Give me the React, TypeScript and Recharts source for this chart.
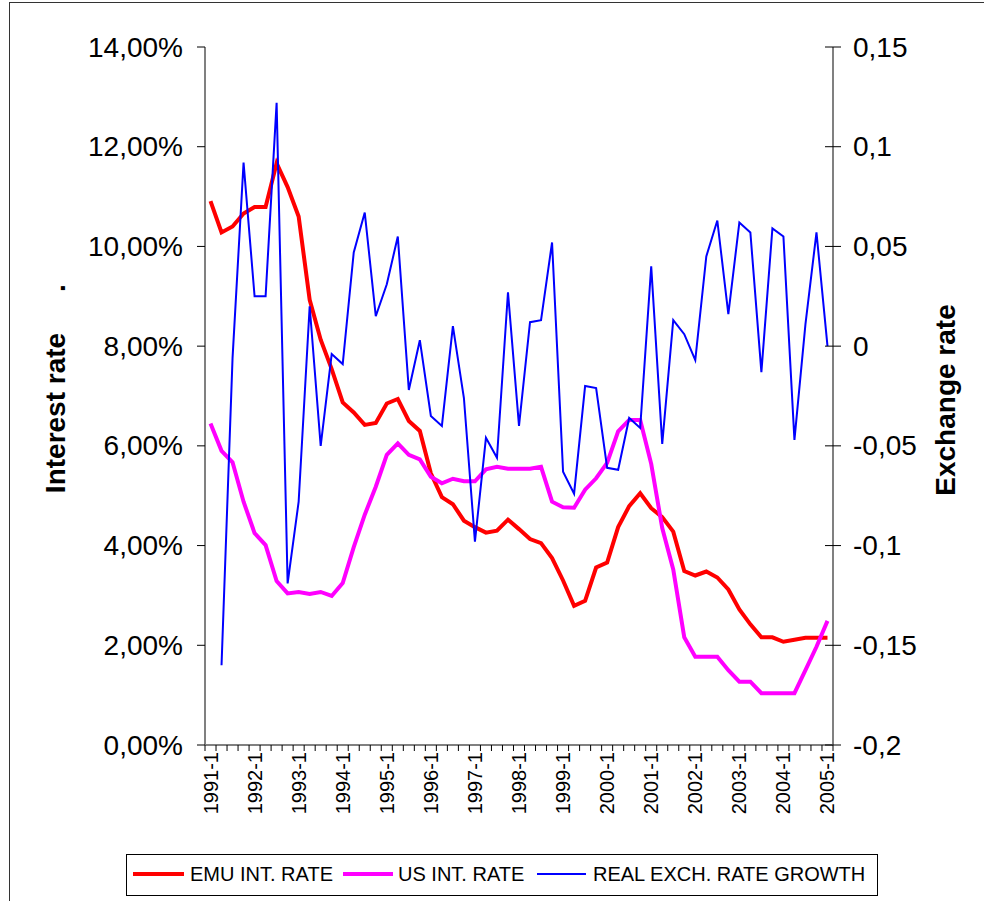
import React from 'react';
import { LineChart, Line, XAxis, YAxis, Legend } from 'recharts';

const YEARS = [1991, 1992, 1993, 1994, 1995, 1996, 1997, 1998, 1999, 2000, 2001, 2002, 2003, 2004, 2005];
const QUARTERS = [1, 2, 3, 4];
const CATEGORIES: string[] = [];
YEARS.forEach((y) => QUARTERS.forEach((q) => { if (y < 2005 || q === 1) CATEGORIES.push(`${y}-${q}`); }));

const EMU_RATE = [
  10.91, 10.28, 10.40, 10.66, 10.79, 10.79, 11.67, 11.19, 10.60, 8.93,
  8.13, 7.54, 6.87, 6.67, 6.42, 6.46, 6.85, 6.94, 6.50, 6.30,
  5.45, 4.97, 4.83, 4.50, 4.37, 4.26, 4.30, 4.52, 4.33, 4.13,
  4.05, 3.75, 3.30, 2.79, 2.89, 3.56, 3.66, 4.37, 4.79, 5.05,
  4.75, 4.57, 4.28, 3.49, 3.40, 3.48, 3.36, 3.12, 2.72, 2.42,
  2.16, 2.16, 2.07, 2.11, 2.15, 2.15, 2.15,
];
const US_RATE = [
  6.45, 5.90, 5.67, 4.88, 4.25, 4.01, 3.29, 3.04, 3.07, 3.03,
  3.07, 2.99, 3.25, 3.97, 4.62, 5.18, 5.82, 6.05, 5.82, 5.73,
  5.38, 5.25, 5.34, 5.29, 5.29, 5.53, 5.58, 5.54, 5.54, 5.54,
  5.58, 4.88, 4.77, 4.76, 5.12, 5.35, 5.66, 6.29, 6.52, 6.52,
  5.64, 4.35, 3.52, 2.16, 1.77, 1.77, 1.77, 1.50, 1.27, 1.27,
  1.04, 1.04, 1.04, 1.04, 1.50, 1.97, 2.49,
];
const EXCH_GROWTH: (number | null)[] = [
  null, -0.160, -0.006, 0.092, 0.025, 0.025, 0.122, -0.119, -0.078, 0.020,
  -0.050, -0.004, -0.009, 0.047, 0.067, 0.015, 0.031, 0.055, -0.022, 0.003,
  -0.035, -0.040, 0.010, -0.026, -0.098, -0.046, -0.056, 0.027, -0.040, 0.012,
  0.013, 0.052, -0.063, -0.074, -0.020, -0.021, -0.061, -0.062, -0.036, -0.041,
  0.040, -0.049, 0.013, 0.006, -0.007, 0.045, 0.063, 0.016, 0.062, 0.057,
  -0.013, 0.059, 0.055, -0.047, 0.011, 0.057, 0.000,
];

const LEFT_TICKS = [0, 2, 4, 6, 8, 10, 12, 14];
const RIGHT_TICKS = [-0.2, -0.15, -0.1, -0.05, 0, 0.05, 0.1, 0.15];
const X_TICKS: number[] = [];
for (let k = 0; k <= CATEGORIES.length * 2; k++) X_TICKS.push(k / 2 - 0.5);

const data = CATEGORIES.map((c, i) => ({
  idx: i,
  label: c,
  emu: EMU_RATE[i],
  us: US_RATE[i],
  exch: EXCH_GROWTH[i],
}));

const FONT = '"Liberation Sans", Arial, sans-serif';

const fmtPct = (v: number) => `${v.toFixed(2).replace('.', ',')}%`;
const fmtRight = (v: number) => {
  const r = Number(v.toFixed(2));
  return r === 0 ? '0' : String(r).replace('.', ',');
};

const XTick = (props: any) => {
  const { x, y, payload } = props;
  const v = payload.value as number;
  if (Math.abs(v - Math.round(v)) > 0.25) {
    return <line x1={x} y1={y} x2={x} y2={y + 6} stroke="#000" strokeWidth={1} />;
  }
  const i = Math.round(v);
  if (i % 4 !== 0) return <g />;
  const ty = y + 7;
  return (
    <text
      x={x}
      y={ty}
      transform={`rotate(-90 ${x} ${ty})`}
      textAnchor="end"
      dominantBaseline="central"
      fontSize={20}
      fontFamily={FONT}
      fill="#000"
    >
      {CATEGORIES[i]}
    </text>
  );
};

const LeftTick = (props: any) => {
  const { x, y, payload } = props;
  return (
    <g>
      <line x1={x - 8} y1={y} x2={x} y2={y} stroke="#000" strokeWidth={1} />
      <text x={x - 22} y={y} textAnchor="end" dominantBaseline="central" fontSize={28} fontFamily={FONT} fill="#000">
        {fmtPct(payload.value)}
      </text>
    </g>
  );
};

const RightTick = (props: any) => {
  const { x, y, payload } = props;
  return (
    <g>
      <line x1={x - 8} y1={y} x2={x + 8} y2={y} stroke="#000" strokeWidth={1} />
      <text x={x + 20} y={y} textAnchor="start" dominantBaseline="central" fontSize={28} fontFamily={FONT} fill="#000">
        {fmtRight(payload.value)}
      </text>
    </g>
  );
};

const LEGEND_ITEMS = [
  { name: 'EMU INT. RATE', color: '#FF0000', w: 4, lineLeft: 6, lineW: 51, textLeft: 63 },
  { name: 'US INT. RATE', color: '#FF00FF', w: 4, lineLeft: 216, lineW: 50, textLeft: 271 },
  { name: 'REAL EXCH. RATE GROWTH', color: '#0000FF', w: 2, lineLeft: 410, lineW: 49, textLeft: 466 },
];

const LegendContent = () => (
  <div style={{ position: 'relative', width: 752, height: 42, border: '1.5px solid #000', boxSizing: 'border-box', background: '#fff' }}>
    {LEGEND_ITEMS.map((it) => (
      <React.Fragment key={it.name}>
        <div style={{ position: 'absolute', left: it.lineLeft, top: 19 - it.w / 2, width: it.lineW, height: it.w, background: it.color }} />
        <div style={{ position: 'absolute', left: it.textLeft, top: 6, fontFamily: FONT, fontSize: 20, lineHeight: '26px', color: '#000', whiteSpace: 'nowrap' }}>
          {it.name}
        </div>
      </React.Fragment>
    ))}
  </div>
);

const LeftTitle = () => (
  <g>
    <text x={65} y={413} transform="rotate(-90 65 413)" textAnchor="middle" fontSize={28} fontWeight="bold" fontFamily={FONT} fill="#000">
      Interest rate
    </text>
    <text x={65} y={288} transform="rotate(-90 65 288)" textAnchor="middle" fontSize={28} fontWeight="bold" fontFamily={FONT} fill="#000">
      .
    </text>
  </g>
);

const RightTitle = () => (
  <text x={955} y={400} transform="rotate(-90 955 400)" textAnchor="middle" fontSize={28} fontWeight="bold" fontFamily={FONT} fill="#000">
    Exchange rate
  </text>
);

export default function App() {
  return (
    <div style={{ position: 'absolute', left: 0, top: 0, width: 984, height: 901, overflow: 'hidden', background: '#fff' }}>
      <div style={{ position: 'absolute', left: 9, top: 2, width: 990, height: 910, border: '1px solid #333', boxSizing: 'border-box' }} />
      <div style={{ position: 'absolute', left: 0, top: 0 }}>
        <LineChart width={984} height={901} data={data} margin={{ top: 47, right: 0, bottom: 0, left: 0 }}>
          <XAxis
            dataKey="idx"
            type="number"
            domain={[-0.5, CATEGORIES.length - 0.5]}
            ticks={X_TICKS}
            interval={0}
            height={156}
            tickLine={false}
            tickSize={0}
            tickMargin={0}
            axisLine={{ stroke: '#808080', strokeWidth: 2 }}
            tick={XTick}
            allowDataOverflow
          />
          <YAxis
            yAxisId="left"
            orientation="left"
            width={205}
            type="number"
            domain={[0, 14]}
            ticks={LEFT_TICKS}
            interval={0}
            tickLine={false}
            tickSize={0}
            tickMargin={0}
            axisLine={{ stroke: '#808080', strokeWidth: 2 }}
            tick={LeftTick}
            label={<LeftTitle />}
            allowDataOverflow
          />
          <YAxis
            yAxisId="right"
            orientation="right"
            width={151}
            type="number"
            domain={[-0.2, 0.15]}
            ticks={RIGHT_TICKS}
            interval={0}
            tickLine={false}
            tickSize={0}
            tickMargin={0}
            axisLine={{ stroke: '#808080', strokeWidth: 2 }}
            tick={RightTick}
            label={<RightTitle />}
            allowDataOverflow
          />
          <Legend
            layout="horizontal"
            verticalAlign="middle"
            align="center"
            content={<LegendContent />}
            wrapperStyle={{ position: 'absolute', left: 126, top: 854, width: 752, height: 42 }}
          />
          <Line yAxisId="left" dataKey="emu" name="EMU INT. RATE" stroke="#FF0000" strokeWidth={4} dot={false} type="linear" isAnimationActive={false} />
          <Line yAxisId="left" dataKey="us" name="US INT. RATE" stroke="#FF00FF" strokeWidth={4} dot={false} type="linear" isAnimationActive={false} />
          <Line yAxisId="right" dataKey="exch" name="REAL EXCH. RATE GROWTH" stroke="#0000FF" strokeWidth={2} dot={false} type="linear" isAnimationActive={false} />
        </LineChart>
      </div>
    </div>
  );
}
